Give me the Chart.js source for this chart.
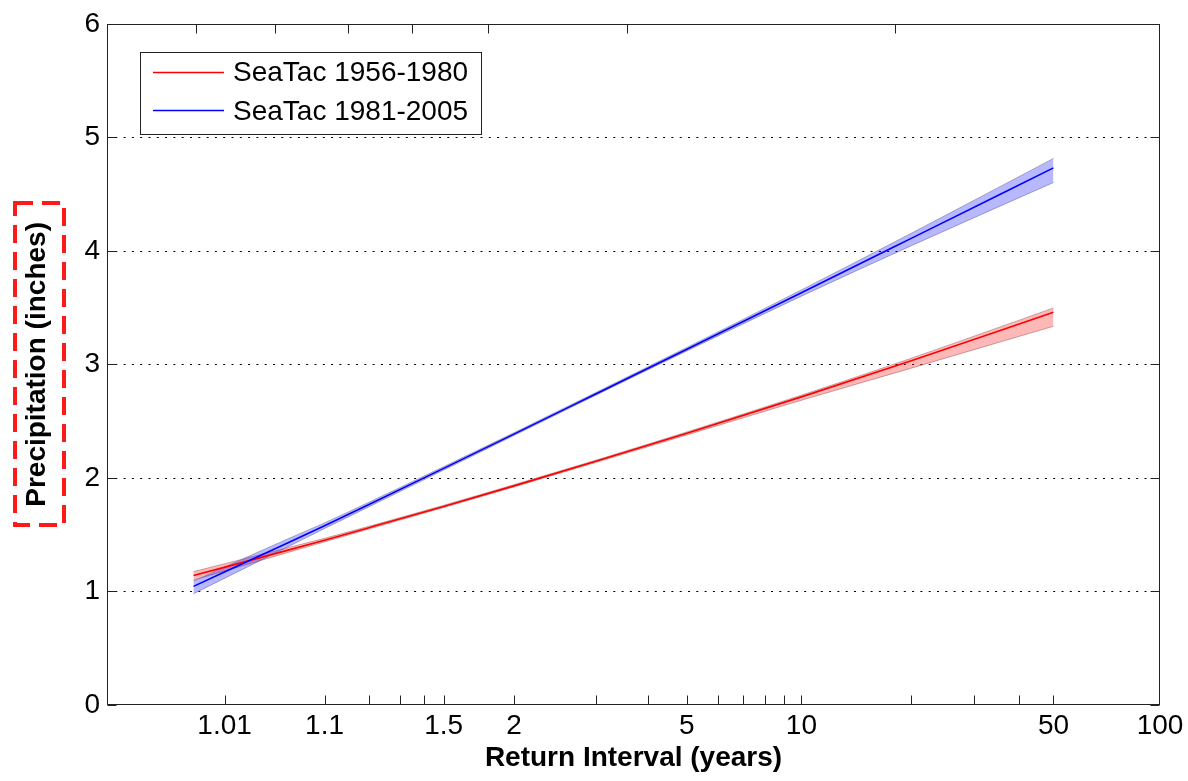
<!DOCTYPE html>
<html>
<head>
<meta charset="utf-8">
<script src="https://cdn.jsdelivr.net/npm/chart.js@4"></script>
<style>
  html, body { margin: 0; padding: 0; background: #fff; }
  #wrap { width: 1188px; height: 781px; }
</style>
</head>
<body>
<div id="wrap"><canvas id="c" width="1188" height="781"></canvas></div>
<script>
// ---- Data ----
const returnIntervals = [1.0035, 1.05, 1.1, 1.2, 1.5, 2, 3, 5, 10, 20, 50];

const precip1956 = [1.14, 1.364, 1.452, 1.562, 1.749, 1.93, 2.146, 2.393, 2.714, 3.032, 3.46];
const upper1956  = [1.175, 1.386, 1.468, 1.574, 1.759, 1.94, 2.156, 2.405, 2.729, 3.054, 3.497];
const lower1956  = [1.10, 1.344, 1.437, 1.55, 1.739, 1.92, 2.136, 2.379, 2.684, 2.967, 3.336];

const precip1981 = [1.045, 1.429, 1.579, 1.766, 2.084, 2.386, 2.740, 3.134, 3.631, 4.110, 4.731];
const upper1981  = [1.092, 1.464, 1.604, 1.786, 2.099, 2.398, 2.752, 3.149, 3.656, 4.155, 4.814];
const lower1981  = [0.98, 1.394, 1.554, 1.746, 2.069, 2.374, 2.728, 3.119, 3.601, 4.045, 4.602];

const seriesLabels = ['SeaTac 1956-1980', 'SeaTac 1981-2005'];

// axis ticks (return interval, years)
const xMinorTicks = [1.01, 1.1, 1.2, 1.3, 1.4, 1.5, 2, 3, 4, 5, 6, 7, 8, 9, 10, 20, 30, 40, 50];
const xLabelTicks = [1.01, 1.1, 1.5, 2, 5, 10, 50, 100];
const xTickLabels = ['1.01', '1.1', '1.5', '2', '5', '10', '50', '100'];
// top-edge tick marks (Gumbel reduced variate units)
const topTickVariates = [-1.717, -1.200, -0.722, -0.302, 0.196, 1.107, 2.863];
const yTicks = [0, 1, 2, 3, 4, 5, 6];
const xRange = [-2.3, 100];   // left limit in reduced variate, right limit as return interval

// Gumbel probability-paper transform for the x axis
const gumbel = T => -Math.log(-Math.log(1 - 1 / T));

const pts = arr => arr.map((v, i) => ({ x: gumbel(returnIntervals[i]), y: v }));

const FONT = "'Liberation Sans', Arial, Helvetica, sans-serif";
Chart.defaults.font.family = FONT;
Chart.defaults.color = '#000';

const framePlugin = {
  id: 'matlabFrame',
  beforeDatasetsDraw(chart) {
    const { ctx, chartArea: a, scales: { y } } = chart;
    ctx.save();
    ctx.strokeStyle = '#000';
    ctx.lineWidth = 1;
    ctx.setLineDash([2, 6.3]);
    yTicks.forEach(v => {
      if (v === 0) return;
      const py = Math.round(y.getPixelForValue(v)) + 0.5;
      ctx.beginPath();
      ctx.moveTo(a.left, py);
      ctx.lineTo(a.right, py);
      ctx.stroke();
    });
    ctx.restore();
  },
  afterDatasetsDraw(chart) {
    const { ctx, chartArea: a, scales: { x, y } } = chart;
    ctx.save();
    ctx.strokeStyle = '#222';
    ctx.lineWidth = 1;
    ctx.setLineDash([]);
    const L = Math.round(a.left) + 0.5, R = Math.round(a.right) - 0.5;
    const T = Math.round(a.top) + 0.5, B = Math.round(a.bottom) - 0.5;
    ctx.strokeRect(L, T, R - L, B - T);
    ctx.beginPath();
    const tl = 9;
    xMinorTicks.forEach(t => {
      const px = Math.round(x.getPixelForValue(gumbel(t))) + 0.5;
      ctx.moveTo(px, B); ctx.lineTo(px, B - tl);
    });
    topTickVariates.forEach(v => {
      const px = Math.round(x.getPixelForValue(v)) + 0.5;
      ctx.moveTo(px, T); ctx.lineTo(px, T + tl);
    });
    yTicks.forEach(v => {
      const py = Math.round(y.getPixelForValue(v)) + 0.5;
      ctx.moveTo(L, py); ctx.lineTo(L + tl, py);
      ctx.moveTo(R, py); ctx.lineTo(R - tl, py);
    });
    ctx.stroke();
    ctx.restore();
  },
  afterDraw(chart) {
    const { ctx } = chart;
    ctx.save();
    // legend box
    ctx.fillStyle = '#fff';
    ctx.fillRect(140, 52, 342, 82);
    ctx.strokeStyle = '#222';
    ctx.lineWidth = 1;
    ctx.setLineDash([]);
    ctx.strokeRect(140.5, 52.5, 341, 82);
    const rows = [
      { label: seriesLabels[0], color: '#ff0000', ly: 72.5, ty: 73.5 },
      { label: seriesLabels[1], color: '#0000ff', ly: 110.5, ty: 112 }
    ];
    ctx.font = '28px ' + FONT;
    ctx.textBaseline = 'middle';
    ctx.textAlign = 'left';
    rows.forEach(r => {
      ctx.strokeStyle = r.color;
      ctx.lineWidth = 1.6;
      ctx.beginPath();
      ctx.moveTo(153, r.ly); ctx.lineTo(224, r.ly);
      ctx.stroke();
      ctx.fillStyle = '#000';
      ctx.fillText(r.label, 233, r.ty);
    });
    // red dashed highlight around the y-axis title
    ctx.strokeStyle = '#ff1a1a';
    ctx.lineWidth = 4;
    ctx.setLineDash([18, 9]);
    ctx.strokeRect(15, 203, 49, 322);
    ctx.restore();
  }
};

const common = { pointRadius: 0, cubicInterpolationMode: 'monotone' };

new Chart(document.getElementById('c'), {
  type: 'line',
  data: {
    datasets: [
      { ...common, label: 'band1956u', data: pts(upper1956), borderColor: 'rgba(150,110,110,0.55)', borderWidth: 1,
        backgroundColor: 'rgba(255,0,0,0.28)', fill: '+1', order: 5 },
      { ...common, label: 'band1956l', data: pts(lower1956), borderColor: 'rgba(150,110,110,0.55)', borderWidth: 1,
        fill: false, order: 5 },
      { ...common, label: 'band1981u', data: pts(upper1981), borderColor: 'rgba(110,110,160,0.55)', borderWidth: 1,
        backgroundColor: 'rgba(0,0,255,0.28)', fill: '+1', order: 4 },
      { ...common, label: 'band1981l', data: pts(lower1981), borderColor: 'rgba(110,110,160,0.55)', borderWidth: 1,
        fill: false, order: 4 },
      { ...common, label: seriesLabels[0], data: pts(precip1956), borderColor: '#ff0000', borderWidth: 1.6,
        fill: false, order: 2 },
      { ...common, label: seriesLabels[1], data: pts(precip1981), borderColor: '#0000ff', borderWidth: 1.6,
        fill: false, order: 1 }
    ]
  },
  options: {
    responsive: false,
    animation: false,
    layout: { padding: { top: 18, right: 28, left: 0, bottom: 0 } },
    plugins: { legend: { display: false }, tooltip: { enabled: false } },
    scales: {
      x: {
        type: 'linear',
        min: xRange[0],
        max: gumbel(xRange[1]),
        afterBuildTicks: s => { s.ticks = xLabelTicks.map(t => ({ value: gumbel(t) })); },
        afterFit: s => { s.height = 76; },
        ticks: {
          callback: (v, i) => xTickLabels[i],
          font: { size: 28 }, color: '#000', padding: 4,
          autoSkip: false, maxRotation: 0, minRotation: 0
        },
        grid: { display: false, drawTicks: false },
        border: { display: false },
        title: {
          display: true, text: 'Return Interval (years)', color: '#000',
          font: { size: 28, weight: 'bold', lineHeight: 1.2 },
          padding: { top: 0, bottom: 6 }
        }
      },
      y: {
        type: 'linear',
        min: 0, max: 6,
        afterBuildTicks: s => { s.ticks = yTicks.map(v => ({ value: v })); },
        afterFit: s => { s.width = 107; },
        ticks: { font: { size: 28 }, color: '#000', padding: 7, callback: v => String(v) },
        grid: { display: false, drawTicks: false },
        border: { display: false },
        title: {
          display: true, text: 'Precipitation (inches)', color: '#000',
          font: { size: 28, weight: 'bold', lineHeight: 1.2 },
          padding: { top: 20, bottom: 0 }
        }
      }
    }
  },
  plugins: [framePlugin]
});
</script>
</body>
</html>
